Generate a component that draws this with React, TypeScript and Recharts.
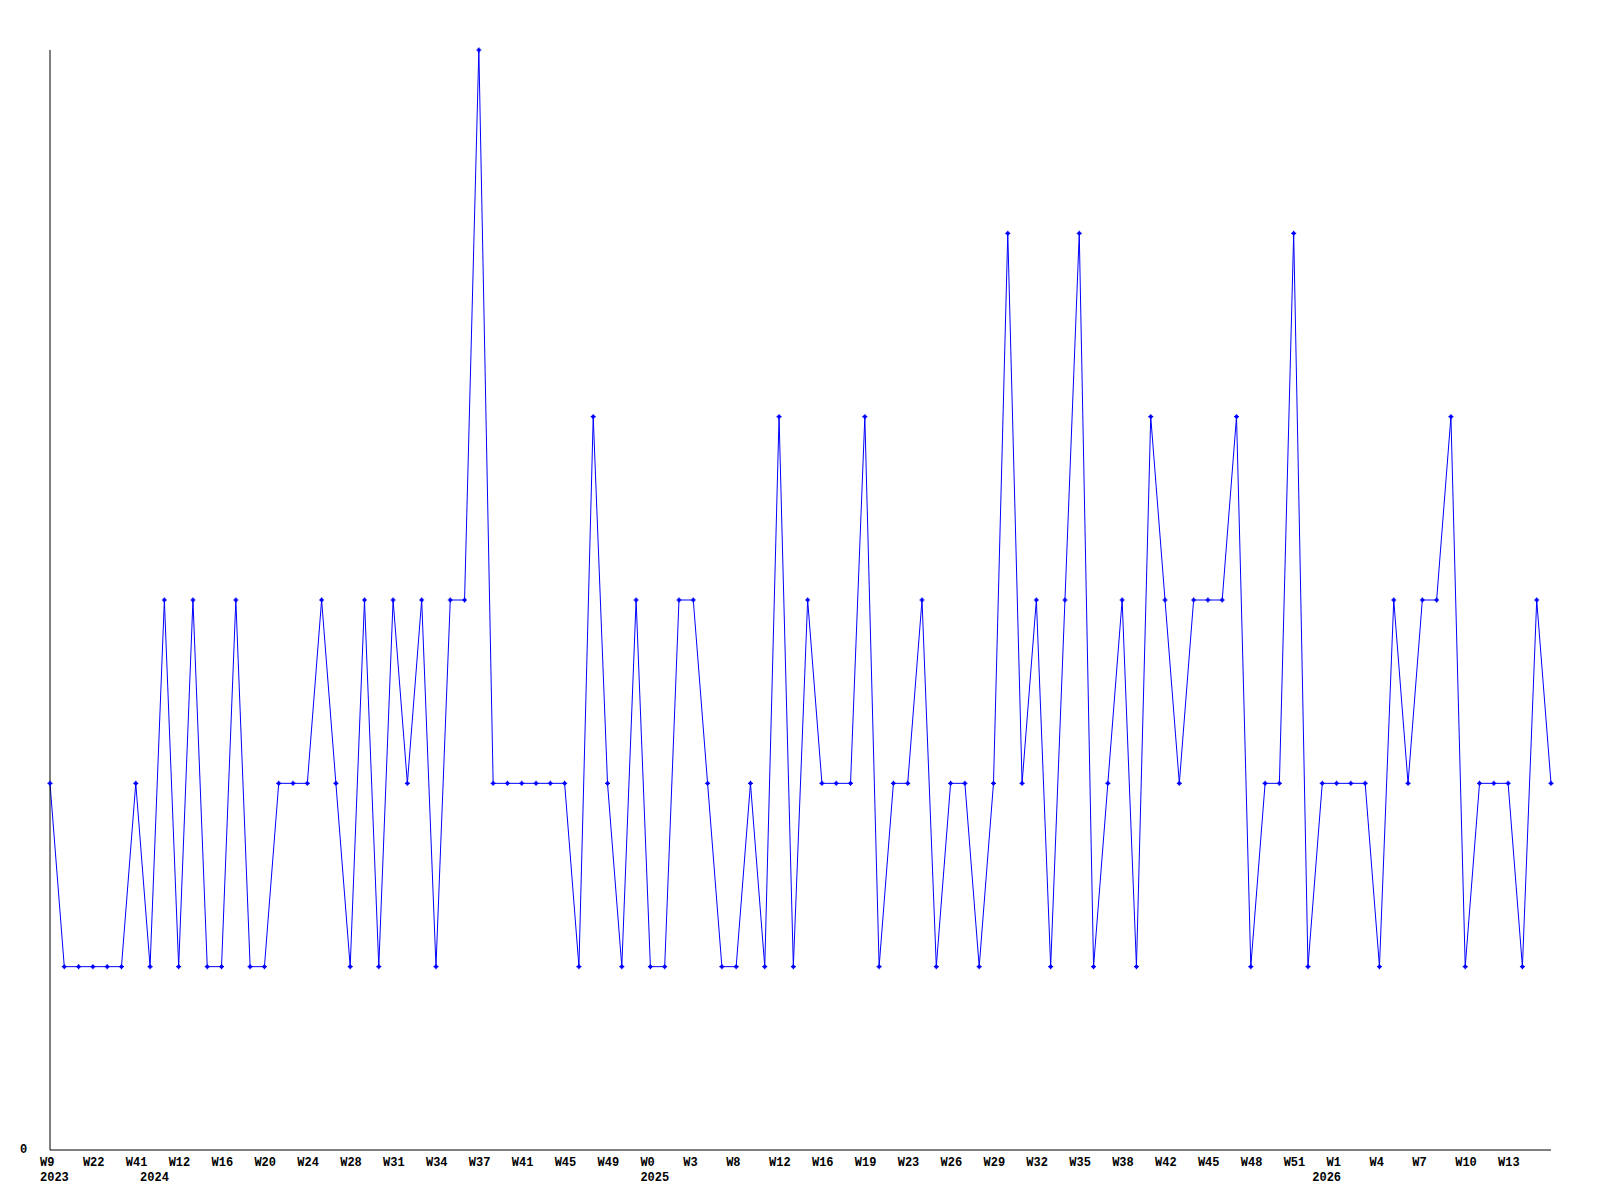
import { LineChart, Line, XAxis, YAxis } from "recharts";

// weekly counts, one per point
const counts: number[] = [
  2, 1, 1, 1, 1, 1, 2, 1, 3, 1,
  3, 1, 1, 3, 1, 1, 2, 2, 2, 3,
  2, 1, 3, 1, 3, 2, 3, 1, 3, 3,
  6, 2, 2, 2, 2, 2, 2, 1, 4, 2,
  1, 3, 1, 1, 3, 3, 2, 1, 1, 2,
  1, 4, 1, 3, 2, 2, 2, 4, 1, 2,
  2, 3, 1, 2, 2, 1, 2, 5, 2, 3,
  1, 3, 5, 1, 2, 3, 1, 4, 3, 2,
  3, 3, 3, 4, 1, 2, 2, 5, 1, 2,
  2, 2, 2, 1, 3, 2, 3, 3, 4, 1,
  2, 2, 2, 1, 3, 2,
];

// week labels, one every third point
const weekLabels: string[] = [
  "W9", "W22", "W41", "W12", "W16", "W20", "W24", "W28", "W31", "W34",
  "W37", "W41", "W45", "W49", "W0", "W3", "W8", "W12", "W16", "W19",
  "W23", "W26", "W29", "W32", "W35", "W38", "W42", "W45", "W48", "W51",
  "W1", "W4", "W7", "W10", "W13",
];
const WEEK_STEP = 3;

const yearLabels: string[] = ["2023", "2024", "2025", "2026"];
const yearPoints: number[] = [0, 7, 42, 89];

const data = counts.map((v, i) => ({ i, v }));

const weekAt = new Map<number, string>(
  weekLabels.map((w, k) => [k * WEEK_STEP, w])
);
const yearAt = new Map<number, string>(
  yearPoints.map((p, k) => [p, yearLabels[k]])
);
const tickIdx = Array.from(
  new Set([...weekAt.keys(), ...yearAt.keys()])
).sort((a, b) => a - b);

const FONT = "'Liberation Mono', 'DejaVu Sans Mono', monospace";

function WeekTick(props: any) {
  const { x, y, payload } = props;
  const w = weekAt.get(payload.value);
  const yr = yearAt.get(payload.value);
  return (
    <g>
      {w && (
        <text x={x - 10} y={y + 16} fontFamily={FONT} fontSize={12} fontWeight="bold" fill="#000">
          {w}
        </text>
      )}
      {yr && (
        <text x={x - 10} y={y + 31} fontFamily={FONT} fontSize={12} fontWeight="bold" fill="#000">
          {yr}
        </text>
      )}
    </g>
  );
}

function ZeroTick(props: any) {
  const { y, payload } = props;
  return (
    <text x={20} y={y + 3} fontFamily={FONT} fontSize={12} fontWeight="bold" fill="#000">
      {payload.value}
    </text>
  );
}

function Marker(props: any) {
  const { cx, cy, index } = props;
  if (cx == null || cy == null) return <g key={index} />;
  return (
    <g key={index}>
      <path d={`M${cx - 2.5} ${cy}h5M${cx} ${cy - 2.5}v5`} stroke="#0000ff" strokeWidth={1.2} />
      <rect x={cx - 1.5} y={cy - 1.5} width={3} height={3} fill="#0000ff" />
    </g>
  );
}

export default function App() {
  return (
    <div style={{ position: "absolute", left: 0, top: 0, background: "#fff" }}>
      <LineChart
        width={1600}
        height={1200}
        data={data}
        margin={{ top: 50, right: 49, bottom: 0, left: 0 }}
      >
        <XAxis
          dataKey="i"
          type="number"
          domain={[0, counts.length - 1]}
          ticks={tickIdx}
          interval={0}
          height={50}
          tickSize={0}
          tickMargin={0}
          tickLine={false}
          axisLine={{ stroke: "#000", strokeWidth: 1 }}
          tick={<WeekTick />}
        />
        <YAxis
          type="number"
          domain={[0, 6]}
          ticks={[0]}
          width={50}
          tickSize={0}
          tickMargin={0}
          tickLine={false}
          axisLine={{ stroke: "#000", strokeWidth: 1 }}
          tick={<ZeroTick />}
        />
        <Line
          type="linear"
          dataKey="v"
          stroke="#0000ff"
          strokeWidth={1}
          dot={<Marker />}
          activeDot={false}
          isAnimationActive={false}
        />
      </LineChart>
    </div>
  );
}
